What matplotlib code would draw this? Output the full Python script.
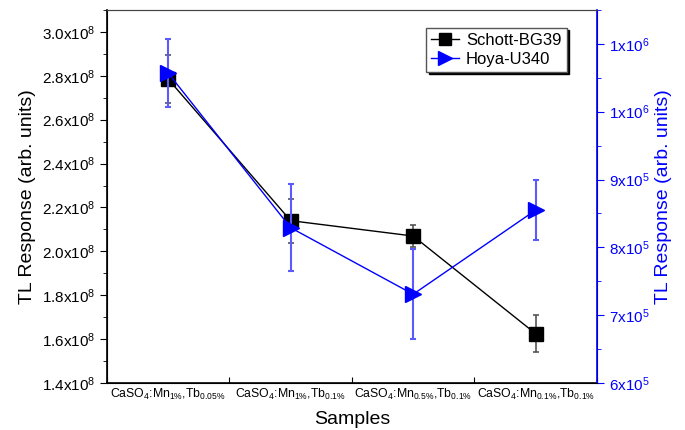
import matplotlib
matplotlib.use("Agg")
import matplotlib.pyplot as plt
import numpy as np
from matplotlib.lines import Line2D
from matplotlib.ticker import MultipleLocator, FixedLocator, FuncFormatter

plt.rcParams['font.family'] = ['Liberation Sans', 'DejaVu Sans']
plt.rcParams['mathtext.fontset'] = 'custom'
plt.rcParams['mathtext.rm'] = 'Liberation Sans'
plt.rcParams['mathtext.it'] = 'Liberation Sans'

samples = [r'CaSO$_4$:Mn$_{1\%}$,Tb$_{0.05\%}$',
           r'CaSO$_4$:Mn$_{1\%}$,Tb$_{0.1\%}$',
           r'CaSO$_4$:Mn$_{0.5\%}$,Tb$_{0.1\%}$',
           r'CaSO$_4$:Mn$_{0.1\%}$,Tb$_{0.1\%}$']

bg39 = [2.785e8, 2.14e8, 2.07e8, 1.625e8]
bg39_err = [1.1e7, 1.0e7, 0.5e7, 0.85e7]

u340 = [1.057e6, 8.29e5, 7.31e5, 8.55e5]
u340_err = [5.0e4, 6.4e4, 6.6e4, 4.4e4]

x = np.arange(1, len(samples) + 1)
blue = '#0000ff'

fig = plt.figure(figsize=(6.85, 4.30), dpi=100)
ax = fig.add_axes([0.156, 0.109, 0.7155, 0.868])
ax2 = ax.twinx()

ax.errorbar(x, bg39, yerr=bg39_err, color='black', lw=1, marker='s', ms=10,
            ecolor='#555555', elinewidth=1.2, capsize=2.5, capthick=1.2)
ax2.errorbar(x, u340, yerr=u340_err, color=blue, lw=1, marker='>', ms=11,
             ecolor='#5a5aff', elinewidth=1.5, capsize=2.5, capthick=1.5)

ax.set_xlim(0.5, 4.5)
ax.set_ylim(1.4e8, 3.1e8)
ax2.set_ylim(6e5, 1.15e6)

# category boundaries carry the ticks, names sit in between
ax.xaxis.set_major_locator(FixedLocator(np.arange(0.5, 4.6, 1)))
ax.xaxis.set_major_formatter(FuncFormatter(lambda v, p: ''))
ax.xaxis.set_minor_locator(FixedLocator(x))
ax.xaxis.set_minor_formatter(FuncFormatter(lambda v, p: samples[int(round(v)) - 1]))
ax.tick_params(axis='x', which='major', direction='in', length=4)
ax.tick_params(axis='x', which='minor', length=0, labelsize=8.8, pad=3)

ax.yaxis.set_major_locator(MultipleLocator(0.2e8))
ax.yaxis.set_minor_locator(MultipleLocator(0.1e8))
ax.yaxis.set_major_formatter(FuncFormatter(lambda v, p: r'%.1fx10$^{8}$' % (v / 1e8)))
ax.tick_params(axis='y', which='major', direction='out', length=5, labelsize=11)
ax.tick_params(axis='y', which='minor', direction='out', length=3)

ax2.yaxis.set_major_locator(MultipleLocator(1e5))
ax2.yaxis.set_minor_locator(MultipleLocator(0.5e5))


def right_fmt(v, p):
    if v >= 9.5e5:
        return r'%dx10$^{6}$' % int(v / 1e6)
    return r'%dx10$^{5}$' % int(round(v / 1e5))


ax2.yaxis.set_major_formatter(FuncFormatter(right_fmt))
ax2.tick_params(axis='y', which='major', direction='out', length=5, labelsize=11,
                colors=blue)
ax2.tick_params(axis='y', which='minor', direction='out', length=3, colors=blue)
ax2.spines['right'].set_color(blue)
ax2.spines['right'].set_linewidth(1.2)
ax.spines['left'].set_linewidth(1.2)
ax.spines['bottom'].set_linewidth(1.2)
ax.spines['top'].set_color('#444444')
ax2.spines['top'].set_color('#444444')

ax.set_ylabel('TL Response (arb. units)', fontsize=14)
ax2.set_ylabel('TL Response (arb. units)', fontsize=14, color=blue)
ax.set_xlabel('Samples', fontsize=14, labelpad=6)

handles = [Line2D([], [], color='black', lw=1, marker='s', ms=9),
           Line2D([], [], color=blue, lw=1, marker='>', ms=10)]
leg = ax2.legend(handles, ['Schott-BG39', 'Hoya-U340'],
                 loc='upper right', bbox_to_anchor=(0.955, 0.975),
                 fontsize=12, handlelength=1.7, fancybox=False,
                 shadow={'color': 'black', 'alpha': 1}, framealpha=1,
                 borderpad=0.3, labelspacing=0.25, handletextpad=0.4)
leg.get_frame().set_edgecolor('#555555')

fig.savefig('out.png', dpi=100)
